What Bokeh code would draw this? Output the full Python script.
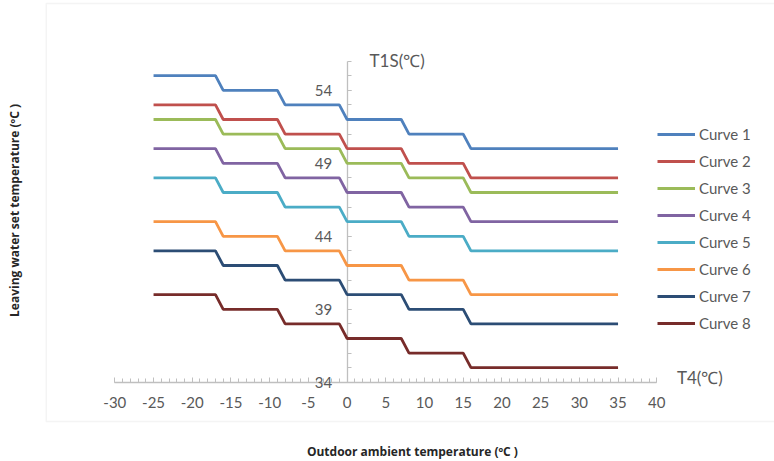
import math
from bokeh.plotting import figure
from bokeh.models import (FixedTicker, Label, Legend, LegendItem, BoxAnnotation,
                          PrintfTickFormatter)
from bokeh.embed import file_html
from bokeh.resources import INLINE

# ---- data ----
t4 = [-25, -17, -16, -9, -8, -1, 0, 7, 8, 15, 16, 35]
curve_names = ["Curve 1", "Curve 2", "Curve 3", "Curve 4",
               "Curve 5", "Curve 6", "Curve 7", "Curve 8"]
curve_1 = [55, 55, 54, 54, 53, 53, 52, 52, 51, 51, 50, 50]
curve_2 = [53, 53, 52, 52, 51, 51, 50, 50, 49, 49, 48, 48]
curve_3 = [52, 52, 51, 51, 50, 50, 49, 49, 48, 48, 47, 47]
curve_4 = [50, 50, 49, 49, 48, 48, 47, 47, 46, 46, 45, 45]
curve_5 = [48, 48, 47, 47, 46, 46, 45, 45, 44, 44, 43, 43]
curve_6 = [45, 45, 44, 44, 43, 43, 42, 42, 41, 41, 40, 40]
curve_7 = [43, 43, 42, 42, 41, 41, 40, 40, 39, 39, 38, 38]
curve_8 = [40, 40, 39, 39, 38, 38, 37, 37, 36, 36, 35, 35]
curves = [curve_1, curve_2, curve_3, curve_4, curve_5, curve_6, curve_7, curve_8]
colors = ["#4F81BD", "#C0504D", "#9BBB59", "#8064A2",
          "#4BACC6", "#F79646", "#2C4D75", "#772C2A"]

x_major_ticks = list(range(-30, 41, 5))
x_minor_ticks = list(range(-30, 41, 1))
y_major_ticks = [34, 39, 44, 49, 54]
y_minor_ticks = list(range(34, 57, 1))
x_bounds = (-30, 40)
y_bounds = (34, 56)

FONT = "Lato"
TITLE_FONT = "Open Sans"
GREY = "#595959"
AXIS_GREY = "#BFBFBF"
BORDER = "#D9D9D9"

# the plotting frame covers the whole canvas
X_LO, X_HI = -44.77, 55.21
Y_LO, Y_HI = 28.575, 60.15

p = figure(width=774, height=461, x_range=(X_LO, X_HI), y_range=(Y_LO, Y_HI),
           output_backend="svg", toolbar_location=None,
           min_border_left=0, min_border_right=0, min_border_top=0,
           min_border_bottom=0, outline_line_color=None)
p.xgrid.visible = False
p.ygrid.visible = False

# plot-area border
p.add_layout(BoxAnnotation(left=-38.86, right=60, top=59.945, bottom=31.315,
                           fill_alpha=0, line_color=BORDER, line_width=1.4,
                           level="underlay"))

# x axis crossing at y=34
xa = p.xaxis[0]
xa.fixed_location = 34
xa.bounds = x_bounds
xa.level = "underlay"
xa.ticker = FixedTicker(ticks=x_major_ticks, minor_ticks=x_minor_ticks)
xa.formatter = PrintfTickFormatter(format="%d")
xa.axis_line_color = AXIS_GREY
xa.axis_line_width = 1.3
xa.major_tick_line_color = AXIS_GREY
xa.minor_tick_line_color = AXIS_GREY
xa.major_tick_in = 5
xa.major_tick_out = 0
xa.minor_tick_in = 4
xa.minor_tick_out = 0
xa.major_label_standoff = 15
xa.major_label_text_font = FONT
xa.major_label_text_font_size = "15px"
xa.major_label_text_color = GREY

# y axis crossing at x=0
ya = p.yaxis[0]
ya.fixed_location = 0
ya.bounds = y_bounds
ya.level = "underlay"
ya.ticker = FixedTicker(ticks=y_major_ticks, minor_ticks=y_minor_ticks)
ya.formatter = PrintfTickFormatter(format="%d")
ya.axis_line_color = AXIS_GREY
ya.axis_line_width = 1.3
ya.major_tick_line_color = AXIS_GREY
ya.minor_tick_line_color = AXIS_GREY
ya.major_tick_in = 4
ya.major_tick_out = 0
ya.minor_tick_in = 4
ya.minor_tick_out = 0
ya.major_label_standoff = 15
ya.major_label_text_font = FONT
ya.major_label_text_font_size = "15px"
ya.major_label_text_color = GREY

items = []
for name, ys, c in zip(curve_names, curves, colors):
    r = p.line(t4, ys, line_color=c, line_width=2.8)
    items.append(LegendItem(label=name, renderers=[r]))

legend = Legend(items=items, location=(657, 127), orientation="vertical",
                glyph_width=38, glyph_height=22, label_height=22, spacing=5,
                label_standoff=4, padding=0, margin=0,
                border_line_color=None, background_fill_alpha=0,
                label_text_font=FONT, label_text_font_size="15px",
                label_text_color=GREY)
p.add_layout(legend, "center")

p.add_layout(Label(x=2.9, y=56.05, text="T1S(℃)", text_font=FONT,
                   text_font_size="17px", text_color=GREY,
                   text_align="left", text_baseline="middle"))
p.add_layout(Label(x=42.6, y=34.35, text="T4(℃)", text_font=FONT,
                   text_font_size="17px", text_color=GREY,
                   text_align="left", text_baseline="middle"))
p.add_layout(Label(x=8.44, y=29.25, text="Outdoor ambient temperature (ºC )",
                   text_font=TITLE_FONT, text_font_size="12px", text_font_style="bold",
                   text_color="#262626", text_align="center", text_baseline="middle"))
p.add_layout(Label(x=-42.97, y=45.77, text="Leaving water set temperature (ºC )",
                   text_font=TITLE_FONT, text_font_size="12px", text_font_style="bold",
                   text_color="#262626", text_align="center", text_baseline="middle",
                   angle=math.pi / 2))

open("out.html", "w").write(file_html(p, INLINE))
